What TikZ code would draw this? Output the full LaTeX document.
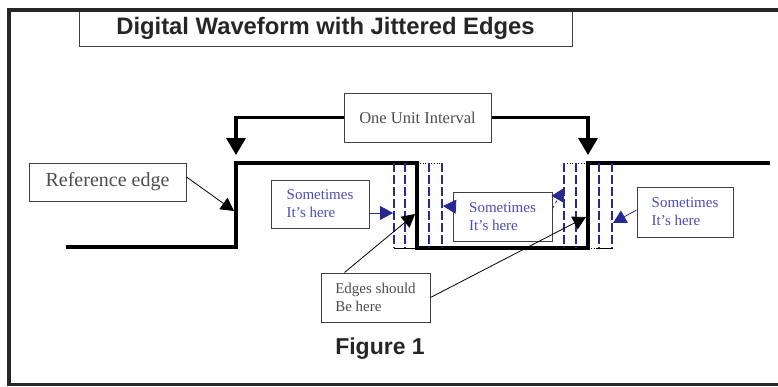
\documentclass[tikz,border=0pt]{standalone}
\usepackage{fontspec}
\setmainfont{Liberation Serif}
\setsansfont{Liberation Sans}
\usetikzlibrary{arrows.meta}
\definecolor{jitblue}{RGB}{40,40,145}
\definecolor{txtblue}{RGB}{75,75,185}
\begin{document}
\begin{tikzpicture}[x=1pt,y=-1pt,
  box/.style={draw=black!75, line width=1pt, align=left, inner sep=0pt},
  greytext/.style={text=black!70, font=\fontsize{15}{18}\selectfont},
  bluetext/.style={text=txtblue, font=\fontsize{15}{18}\selectfont},
  wave/.style={line width=3.5pt},
  jit/.style={jitblue, line width=1.8pt, dash pattern=on 9pt off 3pt},
  bigarrow/.style={line width=3.5pt, -{Triangle[length=17pt,width=19pt]}},
  thinarrow/.style={line width=0.8pt, -{Triangle[length=13pt,width=14pt]}},
  bluearrow/.style={thinarrow, draw=jitblue}]
\useasboundingbox (0,0) rectangle (778,386);
\node [box, minimum width=493, minimum height=37, text=black!85,
  font=\sffamily\bfseries\fontsize{23.8}{28}\selectfont] (title) at (325.5,28) {Digital Waveform with Jittered Edges};
\draw [black!85, line width=4.5pt] (780,10) -- (9,10) -- (9,386);
\draw [black!85, line width=2.5pt] (9,384.5) -- (780,384.5);
% waveform
\draw [wave] (66,247) -- (236,247) -- (236,163) -- (417,163) -- (417,248) -- (588,248) -- (588,163) -- (770,163);
\draw [thick] (394,248) -- (417,248);
\draw [thick] (597,248) -- (613,248);
\draw [thick, dotted] (417,163) -- (442,163);
\draw [thick, dotted] (564,163) -- (588,163);
\draw [thick, dotted] (588,248) -- (597,248);
\foreach \x in {394,405,429,442,564,576,599,612}
  \draw [jit] (\x,163) -- (\x,248);
% labels
\node [box, greytext, font=\fontsize{20}{24}\selectfont, minimum width=157, minimum height=38] (ref) at (107.5,182) {Reference edge};
\node [box, greytext, font=\fontsize{16.5}{20}\selectfont, minimum width=147, minimum height=49] (ui) at (417.5,117.5) {One Unit Interval};
\node [box, bluetext, minimum width=98, minimum height=48] (s1) at (320,204) {Sometimes\\It’s here};
\node [box, bluetext, minimum width=99, minimum height=49] (s2) at (502.5,216.5) {Sometimes\\It’s here};
\node [box, bluetext, minimum width=96, minimum height=50] (s3) at (685,212) {Sometimes\\It’s here};
\node [box, greytext, minimum width=109, minimum height=49] (edges) at (375.5,297.5) {Edges should\\Be here};
\node [text=black!85, font=\sffamily\bfseries\fontsize{23}{28}\selectfont] (fig) at (380,349) {Figure 1};
% arrows
\coordinate (uileft) at (236,155);
\coordinate (uiright) at (588,155);
\coordinate (refpt) at (234,211);
\coordinate (s1pt) at (393,213);
\coordinate (s2pt) at (443,206);
\coordinate (s2ptb) at (564,188);
\coordinate (s3pt) at (613,223);
\coordinate (e1pt) at (415,214);
\coordinate (e2pt) at (586,217);
\draw [bigarrow] (ui.west) -| (uileft);
\draw [bigarrow] (ui.east) -| (uiright);
\draw [thinarrow] ([yshift=5pt]ref.east) -- (refpt);
\draw [bluearrow] ([yshift=-9pt]s1.east) -- (s1pt);
\draw [bluearrow] ([yshift=10pt]s2.west) -- (s2pt);
\draw [bluearrow, dashed] ([yshift=8pt]s2.east) -- (s2ptb);
\draw [bluearrow] ([yshift=2pt]s3.west) -- (s3pt);
\draw [thinarrow] ([xshift=-31pt]edges.north) -- (e1pt);
\draw [thinarrow] (edges.east) -- (e2pt);
\end{tikzpicture}
\end{document}
